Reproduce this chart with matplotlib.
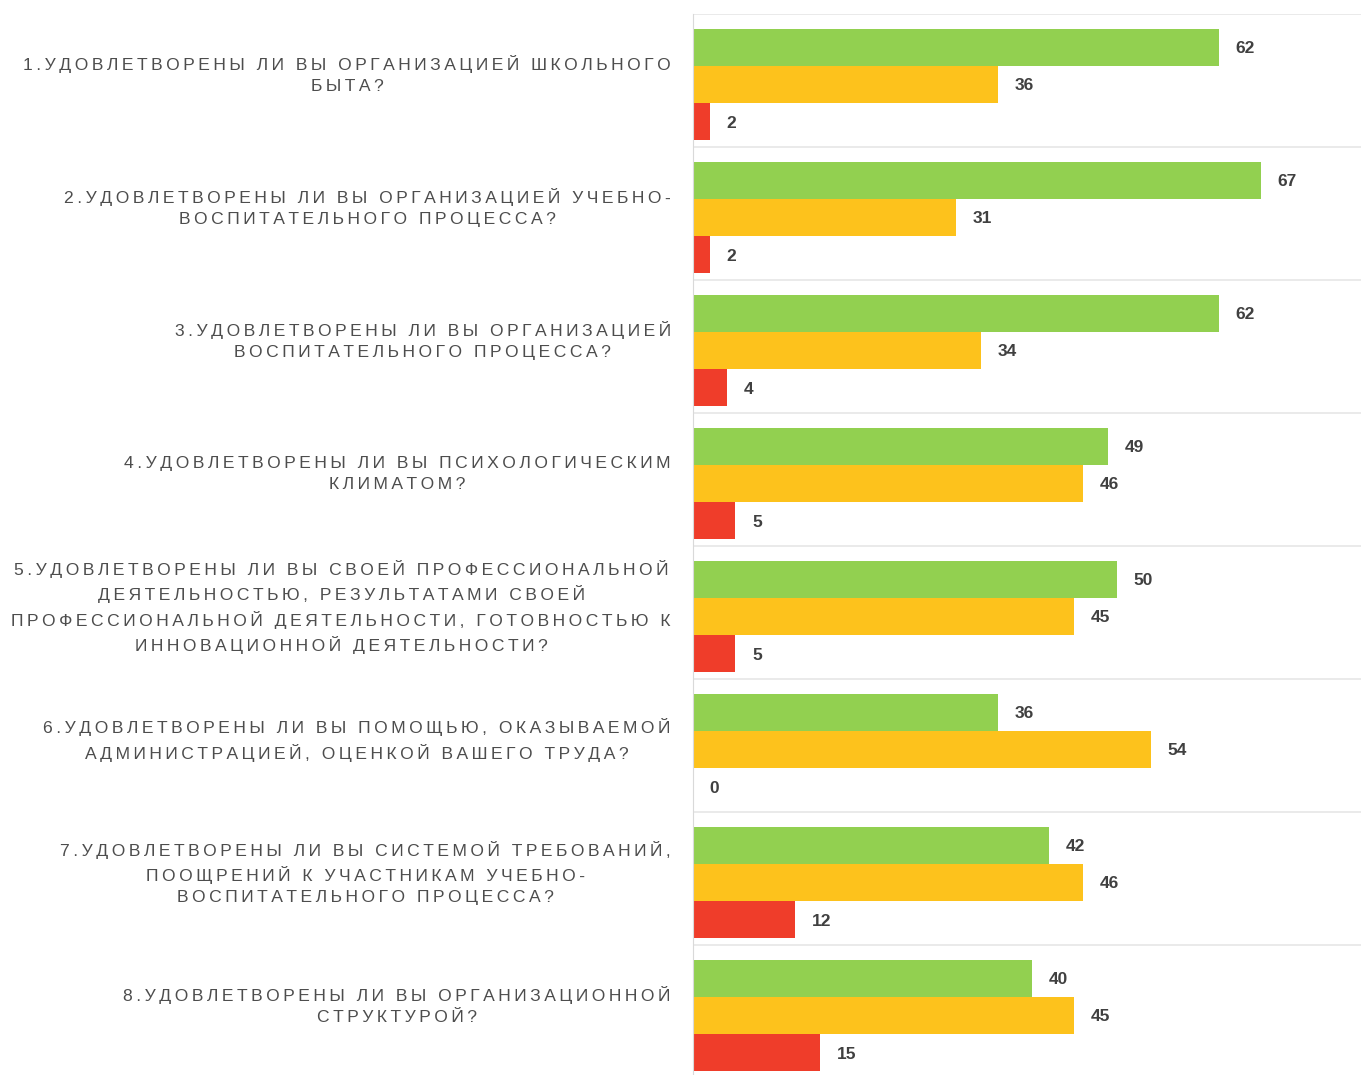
import matplotlib.pyplot as plt

# survey answers, % (green = yes, yellow = partly, red = no)
questions = [
    "1.УДОВЛЕТВОРЕНЫ ЛИ ВЫ ОРГАНИЗАЦИЕЙ ШКОЛЬНОГО\nБЫТА?",
    "2.УДОВЛЕТВОРЕНЫ ЛИ ВЫ ОРГАНИЗАЦИЕЙ УЧЕБНО-\nВОСПИТАТЕЛЬНОГО ПРОЦЕССА?",
    "3.УДОВЛЕТВОРЕНЫ ЛИ ВЫ ОРГАНИЗАЦИЕЙ\nВОСПИТАТЕЛЬНОГО ПРОЦЕССА?",
    "4.УДОВЛЕТВОРЕНЫ ЛИ ВЫ ПСИХОЛОГИЧЕСКИМ\nКЛИМАТОМ?",
    "5.УДОВЛЕТВОРЕНЫ ЛИ ВЫ СВОЕЙ ПРОФЕССИОНАЛЬНОЙ\nДЕЯТЕЛЬНОСТЬЮ, РЕЗУЛЬТАТАМИ СВОЕЙ\n"
    "ПРОФЕССИОНАЛЬНОЙ ДЕЯТЕЛЬНОСТИ, ГОТОВНОСТЬЮ К\nИННОВАЦИОННОЙ ДЕЯТЕЛЬНОСТИ?",
    "6.УДОВЛЕТВОРЕНЫ ЛИ ВЫ ПОМОЩЬЮ, ОКАЗЫВАЕМОЙ\nАДМИНИСТРАЦИЕЙ, ОЦЕНКОЙ ВАШЕГО ТРУДА?",
    "7.УДОВЛЕТВОРЕНЫ ЛИ ВЫ СИСТЕМОЙ ТРЕБОВАНИЙ,\nПООЩРЕНИЙ К УЧАСТНИКАМ УЧЕБНО-\nВОСПИТАТЕЛЬНОГО ПРОЦЕССА?",
    "8.УДОВЛЕТВОРЕНЫ ЛИ ВЫ ОРГАНИЗАЦИОННОЙ\nСТРУКТУРОЙ?",
]
green = [62, 67, 62, 49, 50, 36, 42, 40]
yellow = [36, 31, 34, 46, 45, 54, 46, 45]
red = [2, 2, 4, 5, 5, 0, 12, 15]

colors = ['#92d050', '#fdc21c', '#ef3d2a']
bar_h = 0.28


def spaced(s):
    # imitate the wide letter spacing of the original
    return '\n'.join('\u2009'.join(line) for line in s.split('\n'))


fig = plt.figure(figsize=(13.61, 10.75), dpi=100)
ax = fig.add_axes([693 / 1361, -3 / 1075, 1 - 693 / 1361, 1064 / 1075])

for k, vals in enumerate([green, yellow, red]):
    for i, v in enumerate(vals):
        y = i + (k - 1) * bar_h + 0.03
        ax.barh(y, v, height=bar_h, color=colors[k], zorder=2)
        ax.annotate(str(v), xy=(v, y), xytext=(12, -1), textcoords='offset points',
                    ha='left', va='center', fontsize=12.5, fontweight='bold',
                    color='#404040', family=['Liberation Sans', 'DejaVu Sans'])

for i, q in enumerate(questions):
    ax.annotate(spaced(q), xy=(0, i), xycoords=('axes fraction', 'data'),
                xytext=(-16, 4), textcoords='offset points',
                ha='right', va='center', multialignment='center',
                fontsize=12.6, color='#4d4d4d', linespacing=1.5,
                family=['Liberation Sans', 'DejaVu Sans'])

ax.set_xlim(0, 78.8)
ax.set_ylim(7.5, -0.5)
ax.set_yticks([i + 0.5 for i in range(-1, 8)], minor=False)
ax.set_yticklabels([])
ax.set_xticks([])
ax.tick_params(length=0)
ax.grid(axis='y', color='#e6e6e6', linewidth=1.2, zorder=0)
for s in ['top', 'right', 'bottom']:
    ax.spines[s].set_visible(False)
ax.spines['left'].set_color('#d9d9d9')

fig.savefig('out.png', dpi=100)
